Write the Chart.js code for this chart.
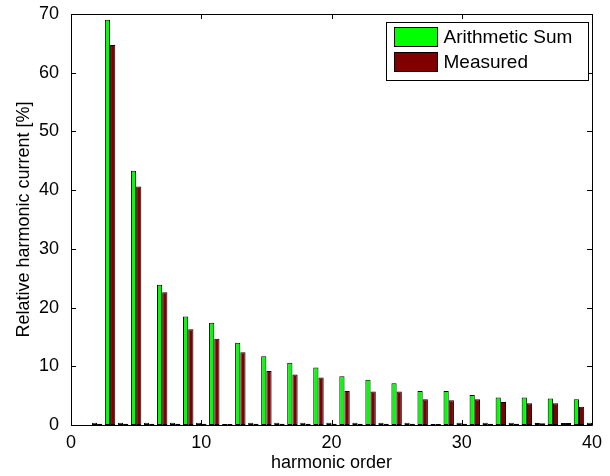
<!DOCTYPE html>
<html>
<head>
<meta charset="utf-8">
<script src="https://cdn.jsdelivr.net/npm/chart.js@4.4.1/dist/chart.umd.min.js"></script>
<style>
  html, body { margin: 0; padding: 0; background: #fff; }
  #wrap { width: 610px; height: 476px; }
</style>
</head>
<body>
<div id="wrap"><canvas id="grafico"></canvas></div>
<script>
// harmonic orders 2..40
var ordens = [2, 3, 4, 5, 6, 7, 8, 9, 10, 11, 12, 13, 14, 15, 16, 17, 18, 19, 20, 21,
              22, 23, 24, 25, 26, 27, 28, 29, 30, 31, 32, 33, 34, 35, 36, 37, 38, 39, 40];

// arithmetic sum of the individual currents [%]
var somaAritmetica = [0.4, 69.0, 0.4, 43.3, 0.4, 23.9, 0.4, 18.5, 0.4, 17.4, 0.15, 14.0, 0.4, 11.7, 0.4, 10.6, 0.4, 9.8, 0.4, 8.3,
                      0.4, 7.7, 0.4, 7.1, 0.4, 5.8, 0.15, 5.8, 0.4, 5.1, 0.4, 4.7, 0.4, 4.7, 0.35, 4.5, 0.35, 4.4, 0.4];

// measured currents [%]
var medido = [0.2, 64.7, 0.2, 40.6, 0.2, 22.6, 0.2, 16.3, 0.2, 14.7, 0.15, 12.4, 0.2, 9.2, 0.2, 8.6, 0.2, 8.1, 0.2, 5.8,
              0.2, 5.7, 0.2, 5.7, 0.2, 4.4, 0.15, 4.2, 0.2, 4.4, 0.2, 3.9, 0.2, 3.7, 0.3, 3.7, 0.35, 3.1, 0.3];

var xTicks = [0, 10, 20, 30, 40];
var yTicks = [0, 10, 20, 30, 40, 50, 60, 70];

var fonte = { family: "'Liberation Sans', Arial, sans-serif", size: 18 };

function pontos(valores) {
    return ordens.map(function (h, i) { return { x: h, y: valores[i] }; });
}

// box around the axes with inward tick marks, like a matlab figure
var caixaEixos = {
    id: 'caixaEixos',
    afterDatasetsDraw: function (chart) {
        var ctx = chart.ctx;
        var a = chart.chartArea;
        var sx = chart.scales.x, sy = chart.scales.y;
        var t = 5;
        ctx.save();
        ctx.strokeStyle = '#000';
        ctx.lineWidth = 1;
        ctx.beginPath();
        ctx.rect(Math.round(a.left) + 0.5, Math.round(a.top) + 0.5,
                 Math.round(a.right - a.left), Math.round(a.bottom - a.top));
        xTicks.forEach(function (v) {
            var px = Math.round(sx.getPixelForValue(v)) + 0.5;
            ctx.moveTo(px, a.bottom); ctx.lineTo(px, a.bottom - t);
            ctx.moveTo(px, a.top); ctx.lineTo(px, a.top + t);
        });
        yTicks.forEach(function (v) {
            var py = Math.round(sy.getPixelForValue(v)) + 0.5;
            ctx.moveTo(a.left, py); ctx.lineTo(a.left + t, py);
            ctx.moveTo(a.right, py); ctx.lineTo(a.right - t, py);
        });
        ctx.stroke();
        ctx.restore();
    }
};

// legend box inside the axes, top right
var legendaInterna = {
    id: 'legendaInterna',
    afterDraw: function (chart) {
        var ctx = chart.ctx;
        var a = chart.chartArea;
        var caixa = { x: a.right - 205.5, y: a.top + 8.5, w: 202, h: 58 };
        ctx.save();
        ctx.fillStyle = '#fff';
        ctx.strokeStyle = '#000';
        ctx.lineWidth = 1;
        ctx.fillRect(caixa.x, caixa.y, caixa.w, caixa.h);
        ctx.strokeRect(caixa.x, caixa.y, caixa.w, caixa.h);
        ctx.font = '19px ' + fonte.family;
        ctx.textBaseline = 'middle';
        chart.data.datasets.forEach(function (ds, i) {
            var y0 = caixa.y + 5 + i * 25;
            ctx.fillStyle = ds.backgroundColor;
            ctx.fillRect(caixa.x + 8, y0, 43, 19);
            ctx.strokeRect(caixa.x + 8, y0, 43, 19);
            ctx.fillStyle = '#000';
            ctx.fillText(ds.label, caixa.x + 57, y0 + 10);
        });
        ctx.restore();
    }
};

var graf = document.getElementById('grafico').getContext('2d');

var grafico = new Chart(graf, {
    type: 'bar',
    data: {
        datasets: [{
            label: 'Arithmetic Sum',
            data: pontos(somaAritmetica),
            backgroundColor: '#00ff00',
            borderColor: '#000000',
            borderWidth: 1,
            borderSkipped: false
        }, {
            label: 'Measured',
            data: pontos(medido),
            backgroundColor: '#800000',
            borderColor: '#000000',
            borderWidth: 1,
            borderSkipped: false
        }]
    },
    plugins: [caixaEixos, legendaInterna],
    options: {
        responsive: true,
        maintainAspectRatio: false,
        animation: false,
        datasets: {
            bar: { categoryPercentage: 0.8, barPercentage: 1.0 }
        },
        layout: {
            padding: { left: 0, right: 18, top: 14, bottom: 0 }
        },
        plugins: {
            legend: { display: false },
            tooltip: { enabled: false }
        },
        scales: {
            x: {
                type: 'linear',
                min: 0,
                max: 40,
                offset: false,
                grid: { display: false, drawTicks: false },
                border: { display: false },
                afterBuildTicks: function (s) {
                    s.ticks = xTicks.map(function (v) { return { value: v }; });
                },
                afterFit: function (s) {
                    s.height = 51;
                    s.paddingLeft = 0;
                    s.paddingRight = 0;
                },
                ticks: { color: '#000', font: fonte, padding: 7, maxRotation: 0 },
                title: {
                    display: true,
                    text: 'harmonic order',
                    color: '#000',
                    font: fonte,
                    padding: { top: 0, bottom: 2 }
                }
            },
            y: {
                min: 0,
                max: 70,
                grid: { display: false, drawTicks: false },
                border: { display: false },
                afterBuildTicks: function (s) {
                    s.ticks = yTicks.map(function (v) { return { value: v }; });
                },
                afterFit: function (s) {
                    s.width = 71;
                    s.paddingTop = 0;
                    s.paddingBottom = 0;
                },
                ticks: { color: '#000', font: fonte, padding: 12 },
                title: {
                    display: true,
                    text: 'Relative harmonic current [%]',
                    color: '#000',
                    font: fonte,
                    padding: { top: 13, bottom: 0 }
                }
            }
        }
    }
});
</script>
</body>
</html>
